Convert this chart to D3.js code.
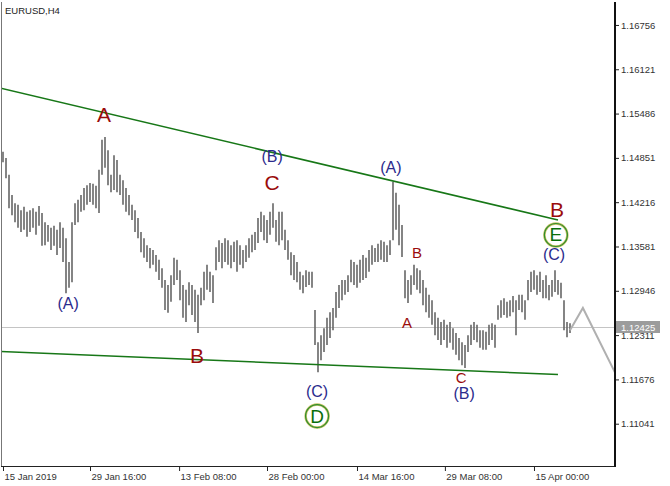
<!DOCTYPE html>
<html><head><meta charset="utf-8">
<script src="https://cdn.jsdelivr.net/npm/d3@7"></script>
<style>body{margin:0;background:#fff}svg{display:block}</style>
</head><body>
<svg id="c" width="670" height="486"></svg>
<script>
const symbolTitle = "EURUSD,H4";
const highs = [1.1494,1.1485,1.1461,1.1432,1.1420,1.1418,1.1410,1.1415,1.1408,1.1410,1.1413,1.1408,1.1416,1.1406,1.1393,1.1389,1.1385,1.1388,1.1382,1.1393,
1.1385,1.1370,1.1336,1.1393,1.1420,1.1425,1.1432,1.1442,1.1446,1.1449,1.1448,1.1445,1.1468,1.1511,1.1515,1.1496,1.1461,1.1489,1.1482,1.1461,
1.1453,1.1442,1.1432,1.1418,1.1410,1.1399,1.1379,1.1370,1.1360,1.1356,1.1353,1.1346,1.1339,1.1327,1.1310,1.1303,1.1317,1.1342,1.1339,1.1324,
1.1303,1.1296,1.1307,1.1303,1.1296,1.1289,1.1299,1.1322,1.1332,1.1322,1.1317,1.1357,1.1367,1.1363,1.1370,1.1367,1.1360,1.1365,1.1367,1.1360,
1.1353,1.1360,1.1370,1.1375,1.1379,1.1399,1.1408,1.1403,1.1396,1.1408,1.1420,1.1396,1.1408,1.1408,1.1382,1.1367,1.1350,1.1346,1.1336,1.1322,
1.1317,1.1324,1.1322,1.1322,1.1267,1.1221,1.1231,1.1241,1.1256,1.1264,1.1270,1.1293,1.1303,1.1310,1.1310,1.1317,1.1339,1.1336,1.1332,1.1339,
1.1346,1.1342,1.1353,1.1360,1.1356,1.1362,1.1367,1.1365,1.1360,1.1367,1.1451,1.1435,1.1418,1.1389,1.1324,1.1310,1.1317,1.1332,1.1327,1.1324,
1.1310,1.1299,1.1289,1.1281,1.1264,1.1256,1.1250,1.1253,1.1246,1.1250,1.1241,1.1234,1.1227,1.1221,1.1217,1.1231,1.1246,1.1250,1.1246,1.1238,
1.1238,1.1236,1.1246,1.1248,1.1246,1.1274,1.1281,1.1284,1.1279,1.1281,1.1287,1.1281,1.1289,1.1289,1.1281,1.1310,1.1322,1.1324,1.1317,1.1322,
1.1310,1.1317,1.1303,1.1310,1.1324,1.1310,1.1306,1.1281,1.1250,1.1248];
const lows = [1.1479,1.1456,1.1413,1.1403,1.1393,1.1385,1.1379,1.1382,1.1372,1.1379,1.1385,1.1375,1.1388,1.1359,1.1360,1.1365,1.1353,1.1359,1.1346,1.1356,
1.1336,1.1291,1.1299,1.1307,1.1389,1.1393,1.1408,1.1410,1.1418,1.1422,1.1418,1.1413,1.1406,1.1461,1.1471,1.1446,1.1436,1.1439,1.1436,1.1432,
1.1418,1.1408,1.1403,1.1396,1.1379,1.1370,1.1350,1.1342,1.1336,1.1327,1.1332,1.1322,1.1310,1.1299,1.1267,1.1263,1.1279,1.1303,1.1310,1.1281,
1.1256,1.1250,1.1274,1.1260,1.1250,1.1234,1.1274,1.1281,1.1296,1.1293,1.1277,1.1324,1.1336,1.1327,1.1336,1.1332,1.1327,1.1336,1.1322,1.1332,
1.1327,1.1336,1.1342,1.1350,1.1353,1.1363,1.1379,1.1367,1.1363,1.1375,1.1385,1.1365,1.1360,1.1367,1.1353,1.1339,1.1317,1.1310,1.1307,1.1296,
1.1291,1.1300,1.1303,1.1299,1.1217,1.1178,1.1195,1.1207,1.1217,1.1227,1.1238,1.1256,1.1270,1.1281,1.1289,1.1293,1.1307,1.1303,1.1299,1.1306,
1.1310,1.1313,1.1322,1.1332,1.1336,1.1336,1.1339,1.1336,1.1336,1.1346,1.1367,1.1382,1.1360,1.1343,1.1284,1.1277,1.1289,1.1303,1.1296,1.1291,
1.1274,1.1264,1.1256,1.1246,1.1231,1.1224,1.1217,1.1224,1.1213,1.1220,1.1210,1.1203,1.1195,1.1188,1.1184,1.1207,1.1217,1.1224,1.1221,1.1213,
1.1210,1.1210,1.1217,1.1224,1.1213,1.1253,1.1256,1.1260,1.1256,1.1258,1.1264,1.1231,1.1267,1.1264,1.1253,1.1281,1.1293,1.1296,1.1289,1.1293,
1.1284,1.1284,1.1281,1.1286,1.1293,1.1289,1.1284,1.1238,1.1228,1.1234];
const currentPrice = 1.12425;
const priceTicks = [1.16756,1.16121,1.15486,1.14851,1.14216,1.13581,1.12946,1.12311,1.11676,1.11041];
const timeTickIdx = [0,29,58.7,88,118,147.3,177];
const timeTickLabels = ["15 Jan 2019","29 Jan 16:00","13 Feb 08:00","28 Feb 00:00","14 Mar 16:00","29 Mar 08:00","15 Apr 00:00"];
// trend lines [startIdx, startPrice, endIdx, endPrice]
const upperTrend = [-1, 1.15853, 185, 1.13961];
const lowerTrend = [-1, 1.12076, 185, 1.11746];
const forecastIdx = [189, 193.3, 204.3];
const forecastPrice = [1.1238, 1.1270, 1.1175];
// wave labels
const waveText  = ["A","(A)","B","(B)","C","(C)","D","(A)","B","A","C","(B)","B","E","(C)"];
const waveIdx   = [33.7,21.7,64.7,89.7,89.7,104.7,104.7,129.3,138,134.7,152.7,153.7,184.7,184.3,183.7];
const wavePrice = [1.15466,1.12757,1.12025,1.14864,1.14505,1.11509,1.11151,1.14706,1.13502,1.12498,1.11710,1.11481,1.14104,1.13746,1.13473];
const waveKind  = ["red","blue","red","blue","red","blue","circle","blue","redS","redS","redS","blue","red","circle","blue"];

const svg = d3.select("#c");
const L = 1, R = 614, T = 2, B = 466;
const x = d3.scaleLinear().domain([-0.667, 203.667]).range([L, R]);
const y = d3.scaleLinear().domain([1.10435, 1.17085]).range([B, T]);

svg.append("defs").append("clipPath").attr("id","clip")
  .append("rect").attr("x",L).attr("y",T).attr("width",R-L).attr("height",B-T);
const plot = svg.append("g").attr("clip-path","url(#clip)");

// current price line
plot.append("line").attr("x1",L).attr("x2",R).attr("y1",Math.round(y(currentPrice))+0.5).attr("y2",Math.round(y(currentPrice))+0.5)
  .attr("stroke","#c4c4c4").attr("stroke-width",1);

// bars
plot.append("g").selectAll("line").data(highs).join("line")
  .attr("x1",(d,i)=>x(i)).attr("x2",(d,i)=>x(i))
  .attr("y1",d=>y(d)).attr("y2",(d,i)=>y(lows[i]))
  .attr("stroke","#666").attr("stroke-width",1.6);

// trend lines
[upperTrend, lowerTrend].forEach(t=>{
  plot.append("line").attr("x1",x(t[0])).attr("y1",y(t[1])).attr("x2",x(t[2])).attr("y2",y(t[3]))
    .attr("stroke","#177717").attr("stroke-width",1.6);
});

// forecast
plot.append("path").datum(forecastIdx.map((d,i)=>[d,forecastPrice[i]]))
  .attr("d", d3.line().x(d=>x(d[0])).y(d=>y(d[1])))
  .attr("fill","none").attr("stroke","#b0b0b0").attr("stroke-width",2);

// wave labels
const colors = {red:"#9a0c0c", redS:"#9a0c0c", blue:"#2b2b8c", circle:"#0a6e0a"};
const sizes = {red:21, redS:15, blue:16, circle:19};
waveText.forEach((t,i)=>{
  const k = waveKind[i], cx = x(waveIdx[i]), cy = y(wavePrice[i]);
  if (k==="circle"){
    svg.append("circle").attr("cx",cx).attr("cy",cy).attr("r",11.5)
      .attr("fill","#fff").attr("stroke","#c8c060").attr("stroke-width",2.4);
    svg.append("circle").attr("cx",cx).attr("cy",cy).attr("r",11.5)
      .attr("fill","none").attr("stroke","#2f8f2f").attr("stroke-width",1.2);
  }
  svg.append("text").attr("x",cx).attr("y",cy).attr("text-anchor","middle")
    .attr("dominant-baseline","central")
    .attr("font-family","Liberation Sans, Arial, sans-serif")
    .attr("font-size",sizes[k]).attr("fill",colors[k]).text(t);
});

// frame
svg.append("line").attr("x1",L+0.5).attr("x2",L+0.5).attr("y1",T).attr("y2",B).attr("stroke","#777");
svg.append("line").attr("x1",L).attr("x2",R).attr("y1",B+0.5).attr("y2",B+0.5).attr("stroke","#222");
svg.append("line").attr("x1",R+1).attr("x2",R+1).attr("y1",T).attr("y2",B+1).attr("stroke","#111").attr("stroke-width",2);

// y axis
const ya = svg.append("g").attr("transform",`translate(${R+2},0)`)
  .call(d3.axisRight(y).tickValues(priceTicks).tickFormat(d3.format(".5f")).tickSize(3).tickPadding(2));
ya.select(".domain").remove();
ya.selectAll("line").attr("stroke","#222");
ya.selectAll("text").attr("font-family","Liberation Sans, Arial, sans-serif").attr("font-size",9.5).attr("fill","#333");

// current price label
const cy0 = Math.round(y(currentPrice));
svg.append("rect").attr("x",R+2).attr("y",cy0-6).attr("width",44).attr("height",12).attr("fill","#9c9c9c");
svg.append("text").attr("x",R+7).attr("y",cy0).attr("dominant-baseline","central")
  .attr("font-family","Liberation Sans, Arial, sans-serif").attr("font-size",9.5).attr("fill","#fff")
  .text(d3.format(".5f")(currentPrice));

// x axis
const xa = svg.append("g").attr("transform",`translate(0,${B+1})`)
  .call(d3.axisBottom(x).tickValues(timeTickIdx).tickFormat((d,i)=>timeTickLabels[i]).tickSize(4).tickPadding(2));
xa.select(".domain").remove();
xa.selectAll("line").attr("stroke","#222");
xa.selectAll("text").attr("text-anchor","start").attr("dx","0.1em")
  .attr("font-family","Liberation Sans, Arial, sans-serif").attr("font-size",9.5).attr("fill","#333");

// title
svg.append("text").attr("x",5).attr("y",14).attr("font-family","Liberation Sans, Arial, sans-serif")
  .attr("font-size",9.5).attr("fill","#222").text(symbolTitle);
</script>
</body></html>
